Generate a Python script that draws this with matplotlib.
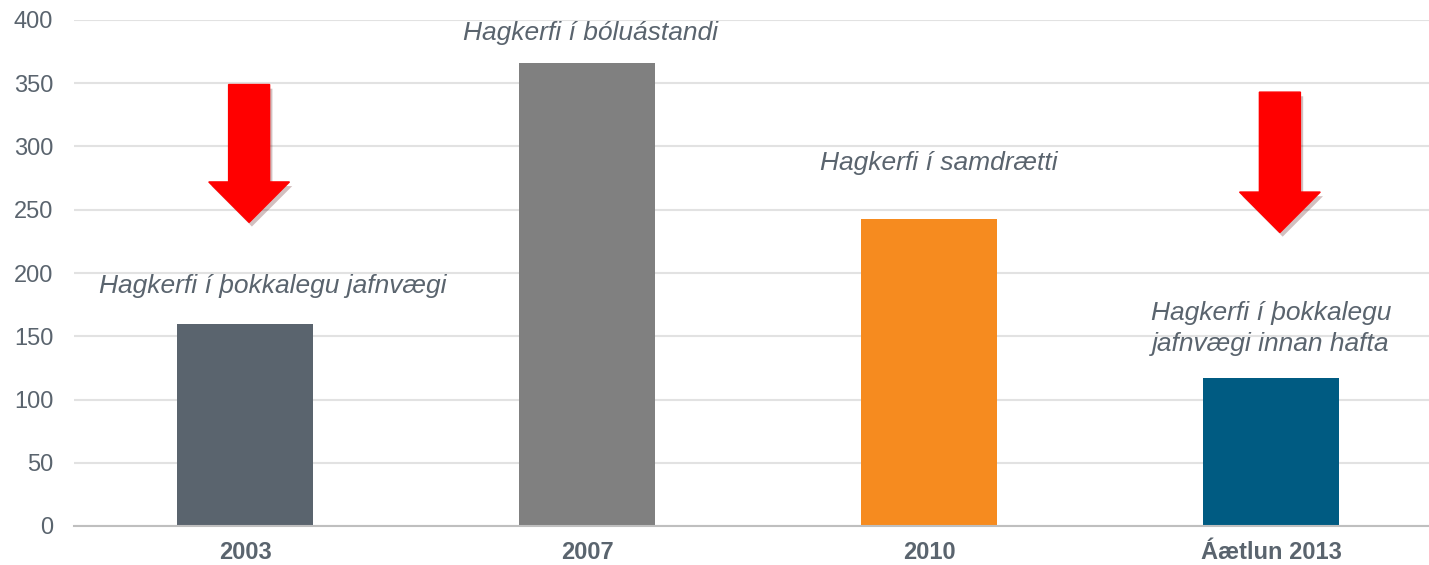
import matplotlib
matplotlib.use("Agg")
import matplotlib.pyplot as plt
from matplotlib.patches import FancyArrow
import matplotlib.patheffects as pe

plt.rcParams['font.family'] = ['Liberation Sans', 'DejaVu Sans']

# Data
categories = ['2003', '2007', '2010', 'Áætlun 2013']
values = [160, 366, 243, 117]
bar_colors = ['#5a646e', '#808080', '#f68b1f', '#005b82']
notes = ['Hagkerfi í þokkalegu jafnvægi', 'Hagkerfi í bóluástandi',
         'Hagkerfi í samdrætti', 'Hagkerfi í þokkalegu\njafnvægi innan hafta']
# offset from category centre, height
note_pos = [(0.08, 190), (0.01, 390), (0.03, 287), (0.0, 156)]
# down arrows (category x, top, tip)
arrows = [(0.012, 349, 240), (3.026, 343, 232)]

text_color = '#5a646e'

fig = plt.figure(figsize=(14.29, 5.65), dpi=100)
ax = fig.add_axes([74 / 1429, 39 / 565, 1 - 74 / 1429, 506 / 565])

x = range(len(categories))
ax.bar(x, values, width=0.4, color=bar_colors, zorder=2)

ax.set_xlim(-0.5, 3.5 - 13 / 342)
ax.set_ylim(0, 400)
ax.set_yticks(range(0, 401, 50))
ax.yaxis.grid(True, color='#e2e2e2', linewidth=1.5, zorder=0)
ax.set_axisbelow(True)
for s in ['top', 'right', 'left']:
    ax.spines[s].set_visible(False)
ax.spines['bottom'].set_color('#bfbfbf')
ax.spines['bottom'].set_linewidth(1.5)
ax.tick_params(axis='y', length=0, labelsize=17, labelcolor=text_color, pad=15)
ax.tick_params(axis='x', length=0, labelsize=17, labelcolor=text_color, pad=11)
ax.set_xticks(list(x))
ax.set_xticklabels(categories, fontweight='bold')

for i, (note, (dx, y)) in enumerate(zip(notes, note_pos)):
    ax.text(i + dx, y, note, ha='center', va='center', style='italic',
            fontsize=19, color=text_color, linespacing=1.4)

for cx, top, tip in arrows:
    head_len = 32
    arr = FancyArrow(cx, top, 0, -(top - tip), width=0.12, head_width=0.236,
                     head_length=head_len, length_includes_head=True,
                     color='#ff0000', zorder=3,
                     path_effects=[pe.SimplePatchShadow(offset=(2, -3), alpha=0.25),
                                   pe.Normal()])
    ax.add_patch(arr)

fig.savefig('out.png', dpi=100)
